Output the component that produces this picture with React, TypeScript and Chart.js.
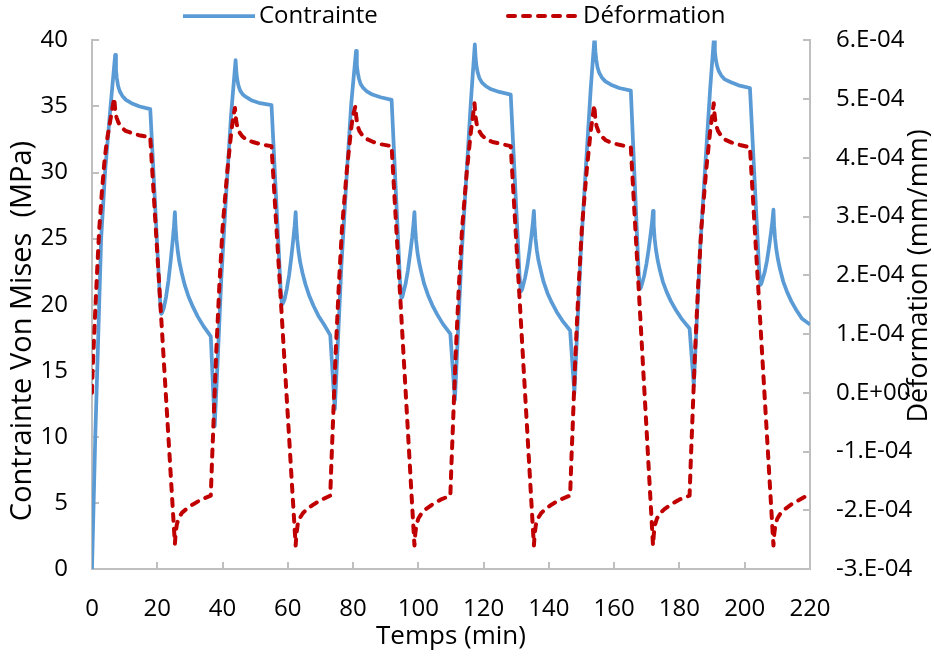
import React, { useEffect, useRef } from 'react';
import { Chart, registerables } from 'chart.js';

Chart.register(...registerables);

// ---------- data ----------
const legendLabels = ['Contrainte', 'Déformation'];
const xTitle = 'Temps (min)';
const leftTitle = 'Contrainte Von Mises  (MPa)';
const rightTitle = 'Déformation (mm/mm)';

// Contrainte Von Mises (MPa) vs time (min)
const stressTime = [
  0, 1.0, 2.8, 4.0, 5.5, 7.1,
  7.35, 7.6, 8.0, 8.5, 9.3, 10.4, 12.1, 14.6, 17.85,
  20.8, 21.2, 21.5, 22.0, 22.7, 23.4, 24.1, 24.7, 25.1, 25.4,
  25.6, 25.9, 26.3, 26.8, 27.5, 28.4, 29.6, 30.9, 32.4, 34.1, 36.4,
  37.6, 38.6, 39.6, 41.1, 42.6, 44.0,
  44.25, 44.5, 44.9, 45.4, 46.2, 47.3, 49.0, 51.5, 55.0,
  57.8, 58.2, 58.5, 59.0, 59.7, 60.4, 61.1, 61.7, 62.1, 62.4,
  62.6, 62.9, 63.3, 63.8, 64.5, 65.4, 66.6, 67.9, 69.4, 71.1, 73.0,
  74.4, 75.4, 76.4, 77.9, 79.4, 80.9,
  81.15, 81.4, 81.8, 82.3, 83.1, 84.2, 85.9, 88.4, 91.8,
  94.4, 94.8, 95.1, 95.4, 96.1, 96.8, 97.5, 98.1, 98.5, 98.8,
  99.0, 99.3, 99.7, 100.2, 100.9, 101.8, 103.0, 104.3, 105.8, 107.5, 109.8,
  111.2, 112.2, 113.2, 114.7, 116.1, 117.3,
  117.55, 117.8, 118.2, 118.7, 119.5, 120.6, 122.3, 124.8, 128.3,
  131.0, 131.4, 131.7, 132.0, 132.7, 133.4, 134.1, 134.7, 135.1, 135.4,
  135.6, 135.9, 136.3, 136.8, 137.5, 138.4, 139.6, 140.9, 142.4, 144.1, 146.5,
  147.8, 148.8, 149.8, 151.3, 152.8, 154.0,
  154.25, 154.5, 154.9, 155.4, 156.2, 157.3, 159.0, 161.5, 165.1,
  167.5, 167.9, 168.2, 168.5, 169.2, 169.9, 170.6, 171.2, 171.6, 171.9,
  172.1, 172.4, 172.8, 173.3, 174.0, 174.9, 176.1, 177.4, 178.9, 180.6, 183.1,
  184.4, 185.4, 186.4, 187.9, 189.4, 190.6,
  190.85, 191.1, 191.5, 192.0, 192.8, 193.9, 195.6, 198.1, 201.6,
  204.4, 204.8, 205.1, 205.4, 206.1, 206.8, 207.5, 208.1, 208.5, 208.8,
  209.0, 209.3, 209.7, 210.2, 210.9, 211.8, 213.0, 214.3, 215.8, 217.5, 220,
];
const stressValues = [
  0, 10, 25, 30, 34.5, 38.9,
  37.75, 37.15, 36.55, 36.15, 35.8, 35.5, 35.25, 35.0, 34.8,
  20.5, 19.3, 19.4, 19.75, 20.6, 21.8, 23.3, 24.8, 25.9, 27.0,
  25.9, 24.9, 24.0, 23.2, 22.4, 21.5, 20.6, 19.85, 19.1, 18.4, 17.6,
  10.8, 16.3, 21.9, 28.3, 34.3, 38.5,
  37.55, 37.05, 36.55, 36.2, 35.9, 35.7, 35.45, 35.25, 35.1,
  21.2, 20.0, 20.1, 20.4, 21.2, 22.25, 23.65, 25.0, 26.0, 27.0,
  25.9, 24.9, 24.0, 23.2, 22.4, 21.55, 20.65, 19.9, 19.15, 18.5, 17.7,
  12.1, 17.5, 22.9, 29.2, 35.1, 39.2,
  38.15, 37.6, 37.1, 36.7, 36.4, 36.15, 35.9, 35.7, 35.5,
  21.7, 20.5, 20.6, 20.9, 21.6, 22.6, 23.9, 25.1, 26.1, 27.0,
  25.9, 24.9, 24.0, 23.25, 22.45, 21.55, 20.7, 19.95, 19.25, 18.55, 17.8,
  12.8, 18.2, 23.6, 29.7, 35.4, 39.7,
  38.65, 38.05, 37.55, 37.15, 36.8, 36.55, 36.3, 36.1, 35.9,
  22.2, 21.0, 21.1, 21.35, 22.05, 22.95, 24.15, 25.35, 26.25, 27.1,
  26.0, 25.0, 24.1, 23.35, 22.6, 21.7, 20.85, 20.15, 19.45, 18.8, 18.05,
  13.3, 18.7, 24.1, 30.3, 36.3, 40.3,
  39.15, 38.55, 37.95, 37.55, 37.2, 36.9, 36.65, 36.4, 36.2,
  22.4, 21.2, 21.3, 21.55, 22.2, 23.1, 24.25, 25.4, 26.25, 27.1,
  26.0, 25.0, 24.15, 23.4, 22.6, 21.75, 20.95, 20.25, 19.6, 18.95, 18.2,
  13.9, 19.2, 24.5, 30.5, 36.3, 40.3,
  39.2, 38.6, 38.1, 37.7, 37.35, 37.05, 36.85, 36.6, 36.4,
  22.7, 21.5, 21.6, 21.85, 22.45, 23.3, 24.45, 25.55, 26.4, 27.2,
  26.0, 25.0, 24.15, 23.4, 22.6, 21.75, 20.95, 20.25, 19.6, 18.95, 18.5,
];

// Déformation (mm/mm) vs time (min)
const strainTime = [
  0, 0.2, 1.0, 1.6, 2.2, 3.0, 3.8, 4.5, 5.3, 6.1, 6.8,
  7.1, 7.5, 8.1, 9.0, 10.3, 12.3, 14.8, 17.85,
  25.4, 25.65, 26.0, 26.6, 27.6, 28.9, 30.9, 33.4, 36.4,
  36.75, 37.1, 38.0, 39.0, 40.0, 41.5, 42.7, 43.3, 43.8,
  44.1, 44.5, 45.1, 46.0, 47.3, 49.3, 51.8, 55.0,
  62.4, 62.65, 63.0, 63.6, 64.6, 65.9, 67.9, 70.4, 73.0,
  73.35, 73.7, 74.6, 75.6, 76.6, 78.1, 79.3, 79.9, 80.7,
  81.0, 81.4, 82.0, 82.9, 84.2, 86.2, 88.7, 91.8,
  98.8, 99.05, 99.4, 100.0, 101.0, 102.3, 104.3, 106.8, 109.8,
  110.15, 110.5, 111.4, 112.4, 113.4, 114.9, 116.1, 116.7, 117.2,
  117.5, 117.9, 118.5, 119.4, 120.7, 122.7, 125.2, 128.3,
  135.4, 135.65, 136.0, 136.6, 137.6, 138.9, 140.9, 143.4, 146.5,
  146.85, 147.2, 148.1, 149.1, 150.1, 151.6, 152.8, 153.4, 153.9,
  154.2, 154.6, 155.2, 156.1, 157.4, 159.4, 161.9, 165.1,
  171.9, 172.15, 172.5, 173.1, 174.1, 175.4, 177.4, 179.9, 183.1,
  183.45, 183.8, 184.7, 185.7, 186.7, 188.2, 189.4, 190.0, 190.5,
  190.8, 191.2, 191.8, 192.7, 194.0, 196.0, 198.5, 201.6,
  208.8, 209.05, 209.4, 210.0, 211.0, 212.3, 214.3, 216.8, 220,
];
const strainValues = [
  0, 0.4e-4, 1.4e-4, 2.1e-4, 2.77e-4, 3.4e-4, 3.93e-4, 4.27e-4, 4.54e-4, 4.8e-4, 5.02e-4,
  4.82e-4, 4.69e-4, 4.6e-4, 4.52e-4, 4.46e-4, 4.42e-4, 4.38e-4, 4.35e-4,
  -2.57e-4, -2.38e-4, -2.24e-4, -2.13e-4, -2.04e-4, -1.98e-4, -1.9e-4, -1.82e-4, -1.75e-4,
  -1.2e-4, -0.7e-4, 0.6e-4, 1.8e-4, 2.8e-4, 3.8e-4, 4.45e-4, 4.7e-4, 4.85e-4,
  4.66e-4, 4.53e-4, 4.44e-4, 4.37e-4, 4.31e-4, 4.27e-4, 4.23e-4, 4.2e-4,
  -2.6e-4, -2.4e-4, -2.25e-4, -2.14e-4, -2.05e-4, -1.98e-4, -1.9e-4, -1.82e-4, -1.75e-4,
  -1.2e-4, -0.7e-4, 0.6e-4, 1.8e-4, 2.8e-4, 3.8e-4, 4.45e-4, 4.7e-4, 4.88e-4,
  4.68e-4, 4.54e-4, 4.45e-4, 4.38e-4, 4.32e-4, 4.27e-4, 4.23e-4, 4.2e-4,
  -2.6e-4, -2.4e-4, -2.25e-4, -2.14e-4, -2.05e-4, -1.98e-4, -1.9e-4, -1.82e-4, -1.75e-4,
  -1.2e-4, -0.7e-4, 0.6e-4, 1.8e-4, 2.8e-4, 3.8e-4, 4.45e-4, 4.7e-4, 4.93e-4,
  4.71e-4, 4.57e-4, 4.47e-4, 4.39e-4, 4.32e-4, 4.27e-4, 4.24e-4, 4.2e-4,
  -2.6e-4, -2.4e-4, -2.25e-4, -2.14e-4, -2.05e-4, -1.98e-4, -1.9e-4, -1.82e-4, -1.75e-4,
  -1.2e-4, -0.7e-4, 0.6e-4, 1.8e-4, 2.8e-4, 3.8e-4, 4.45e-4, 4.7e-4, 4.9e-4,
  4.68e-4, 4.54e-4, 4.45e-4, 4.37e-4, 4.3e-4, 4.25e-4, 4.22e-4, 4.18e-4,
  -2.6e-4, -2.4e-4, -2.25e-4, -2.14e-4, -2.05e-4, -1.98e-4, -1.9e-4, -1.82e-4, -1.75e-4,
  -1.2e-4, -0.7e-4, 0.6e-4, 1.8e-4, 2.8e-4, 3.8e-4, 4.45e-4, 4.7e-4, 4.93e-4,
  4.71e-4, 4.56e-4, 4.46e-4, 4.38e-4, 4.31e-4, 4.26e-4, 4.22e-4, 4.18e-4,
  -2.6e-4, -2.4e-4, -2.25e-4, -2.14e-4, -2.05e-4, -1.98e-4, -1.9e-4, -1.82e-4, -1.72e-4,
];

// axis ranges / tick steps
const xRange = [0, 220];
const xStep = 20;
const leftRange = [0, 40];
const leftStep = 5;
const rightRange = [-3e-4, 6e-4];
const rightStep = 1e-4;

// ---------- styles ----------
const FONT = "'Open Sans', 'Liberation Sans', sans-serif";
const BLUE = '#5b9bd5';
const RED = '#c00000';
const AXIS = '#bfbfbf';
const TEXT = '#000000';

function sciLabel(v: number): string {
  if (Math.abs(v) < 1e-12) return '0.E+00';
  const exp = Math.floor(Math.log10(Math.abs(v)) + 1e-6);
  const m = Math.round(v / Math.pow(10, exp));
  const e = exp < 0 ? '-' + String(-exp).padStart(2, '0') : '+' + String(exp).padStart(2, '0');
  return `${m}.E${e}`;
}

const decorPlugin = {
  id: 'decor',
  beforeDatasetsDraw(chart: any) {
    const ctx = chart.ctx;
    const { left, right, bottom } = chart.chartArea;
    const tl = 7;
    ctx.save();
    ctx.strokeStyle = AXIS;
    ctx.lineWidth = 2;
    const line = (x1: number, y1: number, x2: number, y2: number) => {
      ctx.beginPath();
      ctx.moveTo(x1, y1);
      ctx.lineTo(x2, y2);
      ctx.stroke();
    };
    const xs = chart.scales.x;
    xs.ticks.forEach((t: any) => {
      const px = Math.round(xs.getPixelForValue(t.value));
      line(px, bottom, px, bottom - tl);
    });
    const yl = chart.scales.y;
    yl.ticks.forEach((t: any) => {
      const py = Math.round(yl.getPixelForValue(t.value));
      line(left, py, left + tl, py);
    });
    const yr = chart.scales.y1;
    yr.ticks.forEach((t: any) => {
      const py = Math.round(yr.getPixelForValue(t.value));
      line(right, py, right - tl, py);
    });
    ctx.restore();
  },
  afterDraw(chart: any) {
    const ctx = chart.ctx;
    const { left, right } = chart.chartArea;
    ctx.save();
    ctx.fillStyle = TEXT;
    ctx.textBaseline = 'middle';

    // x title
    ctx.font = `26px ${FONT}`;
    ctx.textAlign = 'center';
    ctx.fillText(xTitle, (left + right) / 2, 637);

    // left title
    ctx.save();
    ctx.translate(23, 331);
    ctx.rotate(-Math.PI / 2);
    ctx.font = `29px ${FONT}`;
    ctx.fillText(leftTitle, 0, 0);
    ctx.restore();

    // right title
    ctx.save();
    ctx.translate(919, 276);
    ctx.rotate(-Math.PI / 2);
    ctx.font = `27px ${FONT}`;
    ctx.fillText(rightTitle, 0, 0);
    ctx.restore();

    // legend
    const ly = 16;
    ctx.lineWidth = 3.75;
    ctx.strokeStyle = BLUE;
    ctx.beginPath();
    ctx.moveTo(183, ly);
    ctx.lineTo(255, ly);
    ctx.stroke();
    ctx.strokeStyle = RED;
    ctx.lineWidth = 4;
    ctx.lineCap = 'round';
    ctx.setLineDash([7, 8]);
    ctx.beginPath();
    ctx.moveTo(508, ly);
    ctx.lineTo(578, ly);
    ctx.stroke();
    ctx.setLineDash([]);
    ctx.font = `24px ${FONT}`;
    ctx.textAlign = 'left';
    ctx.fillText(legendLabels[0], 259, ly);
    ctx.fillText(legendLabels[1], 583, ly);
    ctx.restore();
  },
};

export default function App() {
  const canvasRef = useRef<HTMLCanvasElement | null>(null);

  useEffect(() => {
    const canvas = canvasRef.current;
    if (!canvas) return;
    const tickFont = { family: FONT, size: 24 };
    const border = { display: true, color: AXIS, width: 2 };
    const chart = new Chart(canvas, {
      type: 'line',
      data: {
        datasets: [
          {
            label: legendLabels[0],
            data: stressTime.map((t, i) => ({ x: t, y: stressValues[i] })),
            yAxisID: 'y',
            borderColor: BLUE,
            backgroundColor: BLUE,
            borderWidth: 3.75,
            pointRadius: 0,
            tension: 0,
            borderJoinStyle: 'round',
            fill: false,
            order: 2,
          },
          {
            label: legendLabels[1],
            data: strainTime.map((t, i) => ({ x: t, y: strainValues[i] })),
            yAxisID: 'y1',
            borderColor: RED,
            backgroundColor: RED,
            borderWidth: 4,
            borderDash: [7, 8],
            borderCapStyle: 'round',
            borderJoinStyle: 'round',
            pointRadius: 0,
            tension: 0,
            fill: false,
            order: 1,
          },
        ],
      },
      options: {
        responsive: false,
        animation: false,
        events: [],
        layout: { padding: { top: 40, left: 0, right: 0, bottom: 0 } },
        plugins: { legend: { display: false }, tooltip: { enabled: false } },
        scales: {
          x: {
            type: 'linear',
            min: xRange[0],
            max: xRange[1],
            grid: { display: false, drawTicks: false },
            border,
            ticks: { stepSize: xStep, font: tickFont, color: TEXT, padding: 26, maxRotation: 0, autoSkip: false },
            afterFit: (s: any) => { s.height = 90; },
          },
          y: {
            type: 'linear',
            position: 'left',
            min: leftRange[0],
            max: leftRange[1],
            grid: { display: false, drawTicks: false },
            border,
            ticks: { stepSize: leftStep, font: tickFont, color: TEXT, padding: 24 },
            afterFit: (s: any) => { s.width = 92; },
          },
          y1: {
            type: 'linear',
            position: 'right',
            min: rightRange[0],
            max: rightRange[1],
            grid: { display: false, drawTicks: false },
            border,
            ticks: { stepSize: rightStep, font: tickFont, color: TEXT, padding: 26, callback: (v: any) => sciLabel(Number(v)) },
            afterFit: (s: any) => { s.width = 124; },
          },
        },
      },
      plugins: [decorPlugin],
    } as any);
    return () => chart.destroy();
  }, []);

  return (
    <div style={{ position: 'fixed', left: 0, top: 0, width: 934, height: 659, background: '#fff' }}>
      <canvas ref={canvasRef} width={934} height={659} style={{ width: 934, height: 659, display: 'block' }} />
    </div>
  );
}
